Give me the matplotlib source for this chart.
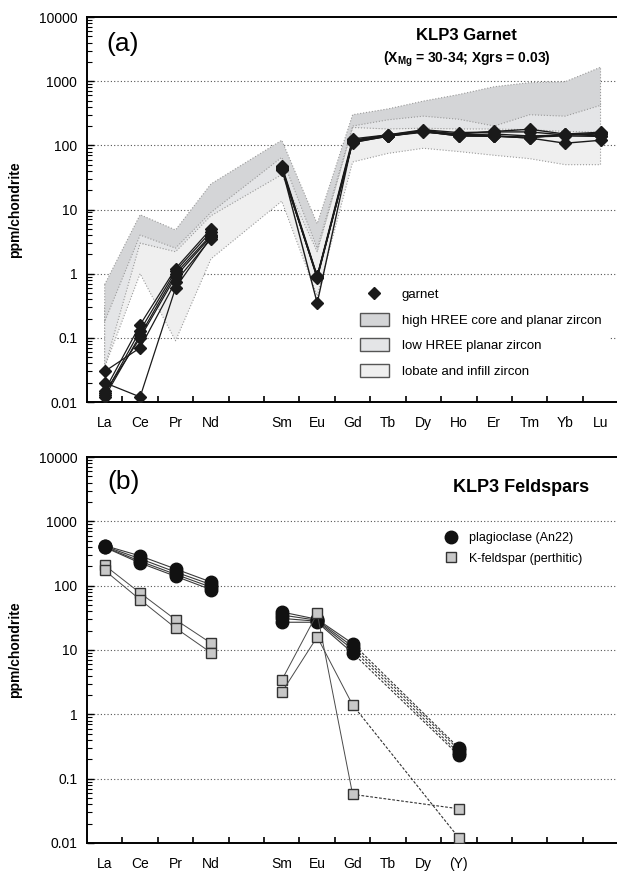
import matplotlib
matplotlib.use('Agg')
import matplotlib.pyplot as plt
from matplotlib.lines import Line2D
from matplotlib.patches import Patch
import numpy as np

plt.rcParams['font.family'] = ['Liberation Sans', 'DejaVu Sans']
plt.rcParams['mathtext.fontset'] = 'custom'
plt.rcParams['mathtext.rm'] = 'Liberation Sans:bold'
plt.rcParams['mathtext.bf'] = 'Liberation Sans:bold'

# REE order on the x axis (Pm left blank)
REE = ['La', 'Ce', 'Pr', 'Nd', 'Pm', 'Sm', 'Eu', 'Gd', 'Tb', 'Dy', 'Ho', 'Er', 'Tm', 'Yb', 'Lu']
labels_a = ['La', 'Ce', 'Pr', 'Nd', '', 'Sm', 'Eu', 'Gd', 'Tb', 'Dy', 'Ho', 'Er', 'Tm', 'Yb', 'Lu']
labels_b = ['La', 'Ce', 'Pr', 'Nd', '', 'Sm', 'Eu', 'Gd', 'Tb', 'Dy', '(Y)', '', '', '', '']

# (a) garnet, elements without Pm
garnet_elems = ['La', 'Ce', 'Pr', 'Nd', 'Sm', 'Eu', 'Gd', 'Tb', 'Dy', 'Ho', 'Er', 'Tm', 'Yb', 'Lu']
garnet = [
    [0.030, 0.070, 0.75, 3.5, 42, 0.90, 110, 140, 165, 140, 140, 130, 150, 140],
    [0.020, 0.012, 0.60, 3.7, 45, 0.35, 120, 145, 170, 150, 165, 178, 150, 160],
    [0.015, 0.160, 1.20, 5.0, 48, 0.92, 126, 146, 175, 158, 162, 162, 145, 155],
    [0.013, 0.130, 1.10, 4.5, 46, 0.85, 115, 140, 160, 145, 140, 130, 108, 120],
    [0.012, 0.110, 1.00, 4.0, 44, 0.90, 112, 138, 165, 140, 138, 135, 140, 138],
    [0.014, 0.100, 0.90, 3.8, 43, 0.88, 118, 142, 168, 146, 150, 140, 145, 150],
]

# zircon fields (upper / lower envelopes)
high_hi = [0.68, 8.3, 4.8, 25, 120, 6.0, 300, 370, 490, 620, 820, 950, 980, 1650]
high_lo = [0.18, 4.0, 2.5, 9.0, 65, 2.5, 200, 250, 285, 255, 200, 300, 285, 420]
low_hi = [0.30, 5.0, 3.0, 12, 80, 3.5, 220, 280, 300, 280, 230, 320, 300, 450]
low_lo = [0.035, 3.0, 2.2, 8.0, 35, 2.2, 190, 180, 185, 180, 180, 175, 165, 160]
lob_hi = [0.18, 3.0, 2.3, 8.5, 45, 2.3, 195, 185, 190, 185, 185, 180, 170, 165]
lob_lo = [0.035, 1.0, 0.09, 1.7, 13.5, 0.45, 55, 75, 90, 80, 70, 62, 50, 50]

# (b) feldspars
lree_elems = ['La', 'Ce', 'Pr', 'Nd']
mree_elems = ['Sm', 'Eu', 'Gd']
plag_lree = [
    [420, 290, 182, 114],
    [410, 262, 163, 104],
    [400, 240, 150, 95],
    [395, 225, 140, 87],
]
plag_mree = [
    [39, 30, 12.6],
    [35, 29, 11.3],
    [31, 28, 10.2],
    [27, 27, 9.0],
]
plag_y = [0.30, 0.28, 0.25, 0.23]

kfs_lree = [
    [207, 77, 29.6, 12.8],
    [173, 60.5, 22, 9.1],
]
kfs_mree = [
    [3.4, 37, 0.057],
    [2.2, 16, 1.4],
]
kfs_y = [0.034, 0.012]


def pos(elems):
    return [REE.index(e) + 1 for e in elems]


def setup_axes(ax, labels):
    ax.set_yscale('log')
    ax.set_ylim(0.01, 10000)
    ax.set_xlim(0.5, 15.5)
    ax.set_yticks([0.01, 0.1, 1, 10, 100, 1000, 10000])
    ax.set_yticklabels(['0.01', '0.1', '1', '10', '100', '1000', '10000'])
    ax.tick_params(axis='y', which='major', direction='in', length=5, width=1.0,
                   labelsize=10, pad=7)
    ax.tick_params(axis='y', which='minor', direction='in', length=3.5, width=0.8)
    ax.set_xticks(np.arange(1, 16))
    ax.set_xticklabels(labels)
    ax.set_xticks(np.arange(1.5, 15.5, 1), minor=True)
    ax.tick_params(axis='x', which='major', length=0, labelsize=10, pad=10)
    ax.tick_params(axis='x', which='minor', direction='in', length=4, width=1.2)
    for s in ['left', 'top', 'bottom']:
        ax.spines[s].set_linewidth(1.4)
    ax.spines['right'].set_visible(False)
    for v in [0.1, 1, 10, 100, 1000]:
        ax.axhline(v, color='#555555', lw=0.8, ls=(0, (1, 2)), zorder=0)
    ax.set_ylabel('ppm/chondrite', fontsize=10, fontweight='bold')
    ax.yaxis.set_label_coords(-0.123, 0.5)


fig = plt.figure(figsize=(6.17, 8.73), dpi=100)
ax1 = fig.add_axes([0.141, 0.5395, 0.861, 0.441])
ax2 = fig.add_axes([0.141, 0.0344, 0.861, 0.4421])

# ---- (a) garnet
setup_axes(ax1, labels_a)
xg = pos(garnet_elems)
edge = dict(edgecolor='#9a9a9a', linestyle=':', linewidth=0.8)
ax1.fill_between(xg, lob_lo, lob_hi, facecolor='#efefef', zorder=1, **edge)
ax1.fill_between(xg, low_lo, low_hi, facecolor='#e4e5e7', zorder=1.1, **edge)
ax1.fill_between(xg, high_lo, high_hi, facecolor='#d4d5d7', zorder=1.2, **edge)

for g in garnet:
    ax1.plot(xg[:4], g[:4], color='#1a1a1a', lw=0.9, marker='D', ms=6,
             mfc='#1a1a1a', mec='#1a1a1a', zorder=3)
    ax1.plot(xg[4:], g[4:], color='#1a1a1a', lw=1.0, marker='D', ms=6,
             mfc='#1a1a1a', mec='#1a1a1a', zorder=3)

ax1.text(0.068, 0.93, '(a)', transform=ax1.transAxes, fontsize=19,
         ha='center', va='center')
ax1.text(0.715, 0.953, 'KLP3 Garnet', transform=ax1.transAxes, fontsize=12,
         fontweight='bold', ha='center', va='center')
ax1.text(0.715, 0.891, r'(X$_{\mathbf{Mg}}$ = 30-34; Xgrs = 0.03)',
         transform=ax1.transAxes, fontsize=10, fontweight='bold',
         ha='center', va='center')

handles_a = [
    Line2D([], [], ls='none', marker='D', ms=6, color='#1a1a1a'),
    Patch(facecolor='#d4d5d7', edgecolor='#555555', lw=1.0),
    Patch(facecolor='#e4e5e7', edgecolor='#555555', lw=1.0),
    Patch(facecolor='#efefef', edgecolor='#555555', lw=1.0),
]
leg = ax1.legend(handles_a, ['garnet', 'high HREE core and planar zircon',
                             'low HREE planar zircon', 'lobate and infill zircon'],
                 loc='upper left', bbox_to_anchor=(0.4985, 0.318), borderaxespad=0,
                 borderpad=0.6, fontsize=9.5, handlelength=2.2, handleheight=1.14,
                 handletextpad=1.0, labelspacing=0.87, frameon=True,
                 fancybox=False, edgecolor='none', facecolor='white', framealpha=1)

# ---- (b) feldspars
setup_axes(ax2, labels_b)
xl = pos(lree_elems)
xm = pos(mree_elems)
xy = [11]
line_c = '#3a3a3a'
for lr, mr, yv in zip(plag_lree, plag_mree, plag_y):
    ax2.plot(xl, lr, color=line_c, lw=0.8, zorder=3, marker='o', ms=9,
             mfc='#111111', mec='#111111')
    ax2.plot(xm, mr, color=line_c, lw=0.8, zorder=3, marker='o', ms=9,
             mfc='#111111', mec='#111111')
    ax2.plot([xm[-1], xy[0]], [mr[-1], yv], color=line_c, lw=0.8,
             ls=(0, (2.5, 1.5)), zorder=2)
    ax2.plot(xy, [yv], ls='none', marker='o', ms=9, mfc='#111111',
             mec='#111111', zorder=3)

for lr, mr, yv in zip(kfs_lree, kfs_mree, kfs_y):
    ax2.plot(xl, lr, color='#4a4a4a', lw=0.7, zorder=4, marker='s', ms=7,
             mfc='#c8c8c8', mec='#333333', mew=1.0)
    ax2.plot(xm, mr, color='#4a4a4a', lw=0.7, zorder=4, marker='s', ms=7,
             mfc='#c8c8c8', mec='#333333', mew=1.0)
    ax2.plot([xm[-1], xy[0]], [mr[-1], yv], color='#333333', lw=0.8,
             ls=(0, (2.5, 1.5)), zorder=2)
    ax2.plot(xy, [yv], ls='none', marker='s', ms=7, mfc='#c8c8c8',
             mec='#333333', mew=1.0, zorder=4)

ax2.text(0.068, 0.935, '(b)', transform=ax2.transAxes, fontsize=19,
         ha='center', va='center')
ax2.text(0.817, 0.922, 'KLP3 Feldspars', transform=ax2.transAxes, fontsize=13,
         fontweight='bold', ha='center', va='center')

handles_b = [
    Line2D([], [], ls='none', marker='o', ms=9, color='#111111'),
    Line2D([], [], ls='none', marker='s', ms=7, mfc='#c8c8c8', mec='#333333'),
]
ax2.legend(handles_b, ['plagioclase (An22)', 'K-feldspar (perthitic)'],
           loc='upper left', bbox_to_anchor=(0.673, 0.806), borderaxespad=0,
           borderpad=0, fontsize=9, handlelength=1.0, handletextpad=0.94,
           labelspacing=0.7, frameon=False)

fig.savefig('out.png', dpi=100)
